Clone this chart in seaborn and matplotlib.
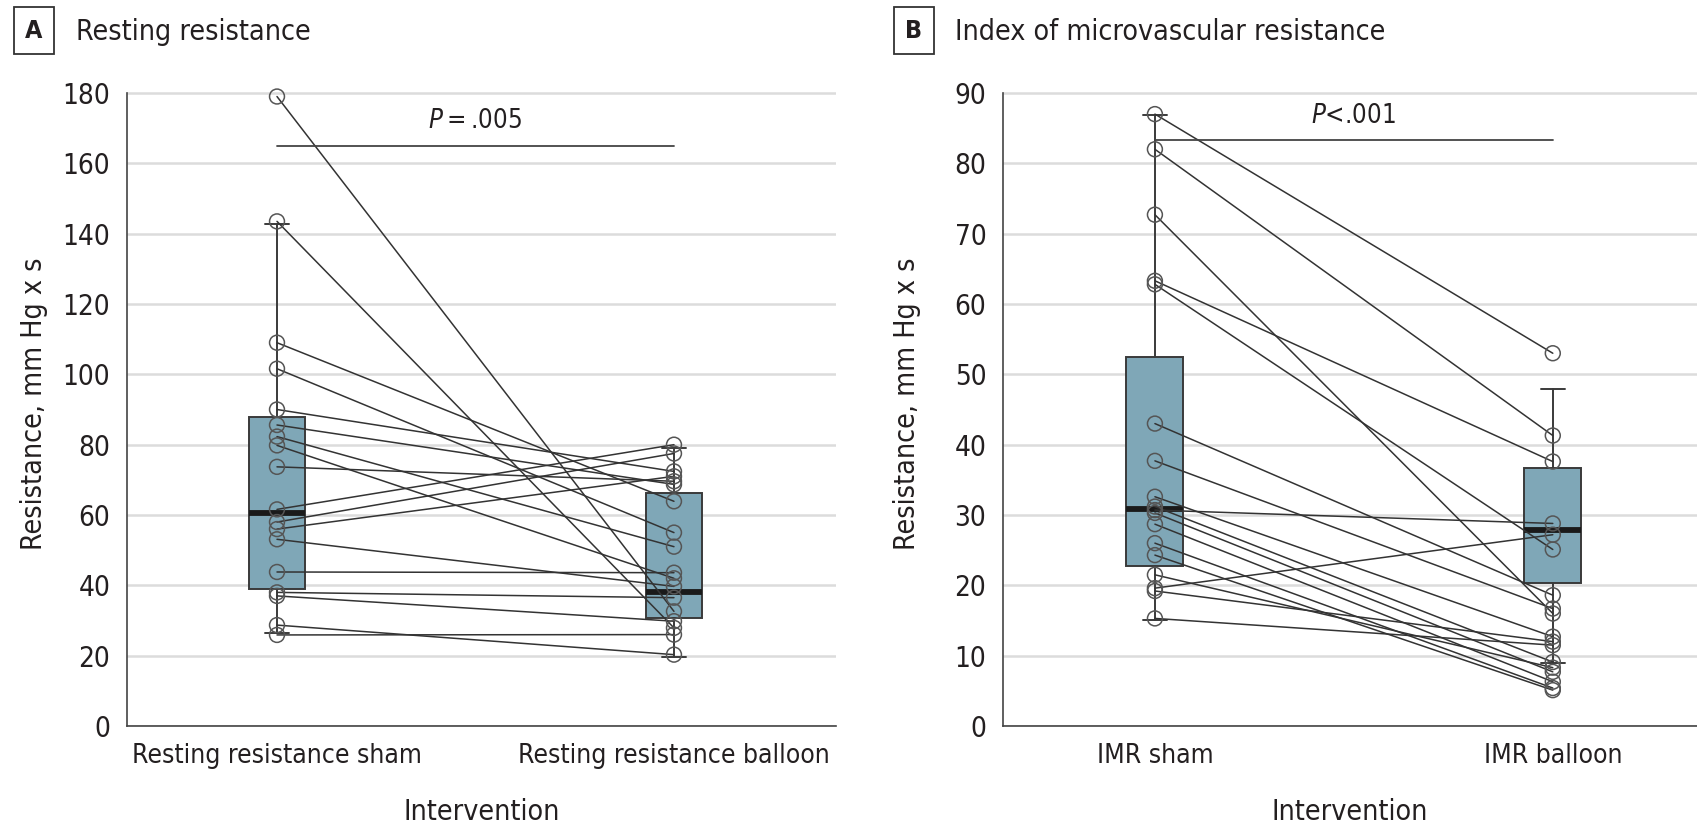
import numpy as np
import pandas as pd
import matplotlib
matplotlib.use("Agg")
import matplotlib.pyplot as plt
from matplotlib import font_manager
import seaborn as sns

# ---- data ----
rest_sham = [179, 143.5, 109, 101.6, 90, 85.6, 82.3, 79.8, 73.7, 61.6, 58, 56, 53.1, 43.8, 38, 37, 28.7, 25.9]
rest_balloon = [32.6, 27.9, 63.9, 55, 72.4, 68.7, 51, 42, 69.6, 80, 77.5, 71, 39.7, 43.6, 36.5, 29.8, 20.3, 26]

imr_sham = [87, 82, 72.7, 63.3, 62.8, 43, 37.7, 32.6, 31.2, 30.7, 30.3, 28.7, 26, 24.3, 21.5, 19.6, 19.2, 15.3]
imr_balloon = [53, 41.3, 16.0, 37.6, 25.1, 18.6, 16.7, 12.7, 9.1, 28.8, 7.7, 6.3, 5.4, 5.1, 8.3, 27.2, 12.0, 11.5]

# box summaries: whisker low, Q1, median, Q3, whisker high
rest_box_sham = [26.4, 39.1, 60.5, 87.9, 142.7]
rest_box_balloon = [19.5, 30.6, 38.2, 66.2, 79.0]
imr_box_sham = [15.1, 22.7, 30.9, 52.5, 86.9]
imr_box_balloon = [9.0, 20.4, 27.9, 36.7, 47.9]

rest_labels = ["Resting resistance sham", "Resting resistance balloon"]
imr_labels = ["IMR sham", "IMR balloon"]
rest_p = ".005"
imr_p = "<.001"

# ---- style ----
sns.set_theme(style="white")
installed = {f.name for f in font_manager.fontManager.ttflist}
narrow = [n for n in ["Liberation Sans Narrow", "DejaVu Sans Condensed"] if n in installed]
FONT = narrow + ["DejaVu Sans"]
plt.rcParams["font.family"] = FONT
plt.rcParams["font.stretch"] = "condensed"
plt.rcParams["mathtext.fontset"] = "custom"
plt.rcParams["mathtext.it"] = FONT[0] + ":italic"
plt.rcParams["mathtext.rm"] = FONT[0]

BOX_COLOR = "#7fa7b7"
EDGE = "#3a3a3a"
LINE = "#333333"
TXT = "#231f20"

fig = plt.figure(figsize=(16.97, 8.27), dpi=100)
ax_a = fig.add_axes([0.0748, 0.1221, 0.4178, 0.7782])
ax_b = fig.add_axes([0.5910, 0.1221, 0.4089, 0.7782])


def long_form(sham, balloon):
    n = len(sham)
    return pd.DataFrame({
        "pair": list(range(n)) * 2,
        "pos": [0] * n + [1] * n,
        "value": list(sham) + list(balloon),
    })


def draw_panel(ax, sham, balloon, boxes, labels, ymax, ystep, ytop, pval, pline, ptext, xlim):
    df = long_form(sham, balloon)

    # boxes from the summary values
    stats = []
    for b in boxes:
        stats.append({"whislo": b[0], "q1": b[1], "med": b[2], "q3": b[3],
                      "whishi": b[4], "fliers": []})
    ax.bxp(stats, positions=[0, 1], widths=0.143, patch_artist=True,
           showfliers=False, manage_ticks=False,
           boxprops=dict(facecolor=BOX_COLOR, edgecolor=EDGE, linewidth=1.4),
           medianprops=dict(color="#1a1a1a", linewidth=4.2, solid_capstyle="butt"),
           whiskerprops=dict(color=EDGE, linewidth=1.4),
           capprops=dict(color=EDGE, linewidth=1.4),
           capwidths=0.06, zorder=2)

    # paired lines and open circles
    sns.lineplot(data=df, x="pos", y="value", units="pair", estimator=None,
                 color=LINE, linewidth=1.1, ax=ax, legend=False, zorder=3)
    sns.scatterplot(data=df, x="pos", y="value", ax=ax, s=115, marker="o",
                    facecolor="none", edgecolor="#555555", linewidth=1.1,
                    legend=False, zorder=4)

    # significance bar
    ax.plot([0, 1], [pline, pline], color="#444444", linewidth=1.3, zorder=3)
    ax.text(0.5, ptext, r"$\it{P}$" + pval, ha="center", va="center",
            fontsize=18.5, color=TXT)

    ax.set_xlim(*xlim)
    ax.set_ylim(0, ytop)
    ax.set_yticks(np.arange(0, ymax + ystep / 2, ystep))
    ax.set_xticks([0, 1])
    ax.set_xticklabels(labels)
    ax.yaxis.grid(True, color="#dcdcdc", linewidth=1.8, zorder=0)
    ax.xaxis.grid(False)
    ax.set_axisbelow(True)
    for s in ["top", "right"]:
        ax.spines[s].set_visible(False)
    ax.spines["left"].set_bounds(0, ymax)
    for s in ["left", "bottom"]:
        ax.spines[s].set_color("#444444")
        ax.spines[s].set_linewidth(1.2)
    ax.tick_params(axis="y", labelsize=20)
    ax.tick_params(axis="x", labelsize=19)
    ax.tick_params(axis="both", which="both", direction="out", length=6,
                   width=1.1, color="#444444", labelcolor=TXT, pad=6)
    ax.set_xlabel("Intervention", fontsize=20.5, color=TXT)
    ax.set_ylabel("Resistance, mm Hg x s", fontsize=20.5, color=TXT)
    ax.xaxis.set_label_coords(0.5, -0.112)
    ax.yaxis.set_label_coords(-0.112, 0.5)


draw_panel(ax_a, rest_sham, rest_balloon, [rest_box_sham, rest_box_balloon],
           rest_labels, 180, 20, 183, "\u2009=\u2009" + rest_p, 165, 172,
           (-0.378, 1.408))
draw_panel(ax_b, imr_sham, imr_balloon, [imr_box_sham, imr_box_balloon],
           imr_labels, 90, 10, 91.5, imr_p, 83.3, 86.7,
           (-0.382, 1.362))
ax_b.yaxis.set_label_coords(-0.118, 0.5)

# panel headers
for x_letter, x_title, letter, title in [(0.0198, 0.0447, "A", "Resting resistance"),
                                         (0.5385, 0.5625, "B", "Index of microvascular resistance")]:
    fig.text(x_letter, 0.963, letter, fontsize=18, fontweight="bold", color=TXT,
             ha="center", va="center",
             bbox=dict(boxstyle="square,pad=0.45", facecolor="white",
                       edgecolor="#333333", linewidth=1.3))
    fig.text(x_title, 0.961, title, fontsize=20.5, color=TXT, ha="left",
             va="center")

fig.savefig("out.png", dpi=100)
